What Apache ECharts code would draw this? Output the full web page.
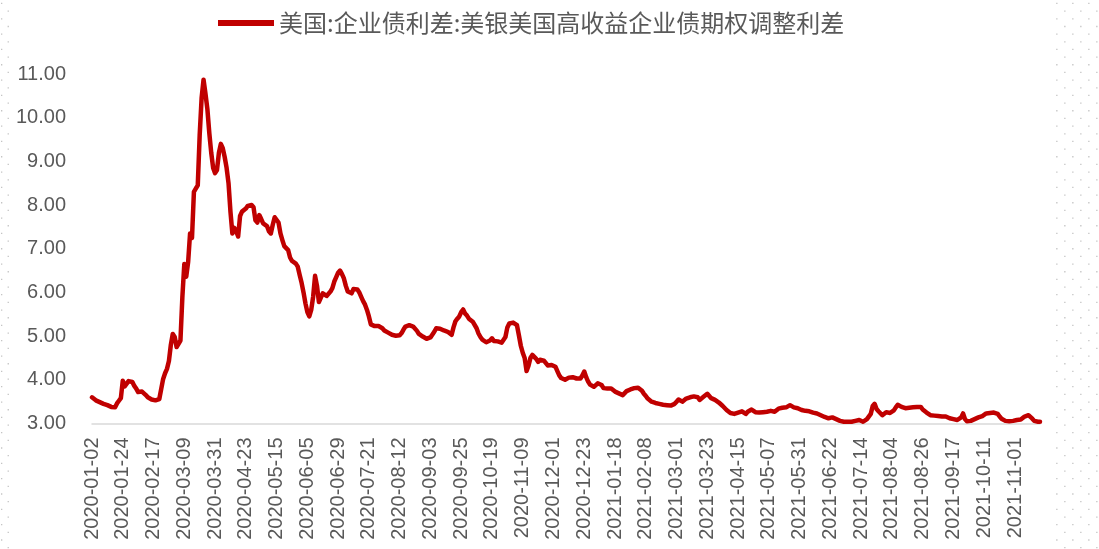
<!DOCTYPE html>
<html>
<head>
<meta charset="utf-8">
<title>美国:企业债利差:美银美国高收益企业债期权调整利差</title>
<script src="https://cdn.jsdelivr.net/npm/echarts@6/dist/echarts.min.js"></script>
<style>
  html, body { margin: 0; padding: 0; background: #ffffff; }
  #chart { width: 1099px; height: 549px; }
</style>
</head>
<body>
<div id="chart"></div>
<script>
// Series name shown in the legend
const seriesName = '美国:企业债利差:美银美国高收益企业债期权调整利差';

// Dates printed under the category axis (every 16th trading day)
const tickLabels = [
  '2020-01-02', '2020-01-24', '2020-02-17', '2020-03-09', '2020-03-31', '2020-04-23',
  '2020-05-15', '2020-06-05', '2020-06-29', '2020-07-21', '2020-08-12', '2020-09-03',
  '2020-09-25', '2020-10-19', '2020-11-09', '2020-12-01', '2020-12-23', '2021-01-18',
  '2021-02-08', '2021-03-01', '2021-03-23', '2021-04-15', '2021-05-07', '2021-05-31',
  '2021-06-22', '2021-07-14', '2021-08-04', '2021-08-26', '2021-09-17', '2021-10-11',
  '2021-11-01'
];

// Market holidays with no observation
const holidays = ['2020-04-10', '2020-12-25', '2021-01-01', '2021-04-02'];

// Observations after the last printed date
const tailCount = 13;

// Option-adjusted spread (%), one row per 16 trading days
const spread = [
  3.60,3.57,3.53,3.50,3.49,3.47,3.45,3.44,3.42,3.40,3.38,3.36,3.37,3.46,3.52,3.58,
  3.98,3.85,3.83,3.97,3.98,3.95,3.86,3.80,3.72,3.69,3.73,3.69,3.65,3.60,3.57,3.55,
  3.54,3.53,3.55,3.56,3.60,4.02,4.15,4.25,4.43,4.80,5.05,4.98,4.75,4.78,4.90,5.90,
  6.65,6.36,6.70,7.35,7.25,8.30,8.38,8.45,9.60,10.45,10.87,10.55,10.20,9.65,9.20,8.85,
  8.73,8.80,9.20,9.40,9.30,9.10,8.85,8.50,7.85,7.35,7.48,7.40,7.28,7.75,7.85,7.88,
  7.92,7.98,8.02,8.00,7.95,7.65,7.60,7.77,7.68,7.58,7.55,7.52,7.40,7.35,7.55,7.72,
  7.73,7.60,7.35,7.20,7.06,7.02,6.97,6.80,6.72,6.68,6.66,6.59,6.40,6.22,6.00,5.75,
  5.55,5.45,5.60,5.90,6.38,6.15,5.78,5.80,5.98,5.95,5.92,5.96,6.02,6.10,6.25,6.35,
  6.45,6.50,6.42,6.32,6.15,6.02,6.00,5.98,6.08,6.12,6.07,6.00,5.90,5.80,5.72,5.60,
  5.45,5.27,5.24,5.23,5.22,5.23,5.21,5.18,5.13,5.10,5.08,5.06,5.03,5.03,5.01,5.00,
  5.02,5.07,5.15,5.22,5.25,5.25,5.24,5.22,5.18,5.12,5.05,5.01,4.99,4.96,4.94,4.93,
  4.97,5.00,5.10,5.18,5.22,5.17,5.14,5.13,5.11,5.10,5.06,5.03,5.20,5.34,5.40,5.45,
  5.55,5.61,5.52,5.47,5.40,5.36,5.33,5.29,5.18,5.06,4.98,4.92,4.89,4.86,4.84,4.90,
  4.95,4.89,4.87,4.88,4.87,4.85,4.84,4.98,5.20,5.29,5.31,5.31,5.28,5.25,5.02,4.78,
  4.62,4.50,4.20,4.32,4.50,4.57,4.57,4.48,4.41,4.46,4.49,4.44,4.40,4.33,4.30,4.34,
  4.31,4.30,4.20,4.10,4.04,4.01,4.00,4.02,4.05,4.06,4.06,4.05,4.03,4.03,4.03,4.10,
  4.19,4.06,3.96,3.89,3.86,3.84,3.86,3.92,3.90,3.88,3.81,3.77,3.80,3.84,3.80,3.76,
  3.73,3.71,3.69,3.67,3.65,3.69,3.74,3.76,3.78,3.79,3.81,3.83,3.82,3.81,3.75,3.68,
  3.63,3.57,3.53,3.50,3.48,3.47,3.46,3.45,3.45,3.43,3.42,3.42,3.43,3.41,3.43,3.45,
  3.50,3.55,3.52,3.50,3.53,3.57,3.58,3.60,3.60,3.62,3.65,3.60,3.54,3.58,3.61,3.64,
  3.68,3.63,3.58,3.56,3.54,3.52,3.48,3.44,3.40,3.36,3.31,3.28,3.24,3.22,3.22,3.23,
  3.25,3.28,3.28,3.24,3.22,3.27,3.30,3.32,3.30,3.26,3.25,3.25,3.25,3.26,3.27,3.27,
  3.28,3.29,3.28,3.27,3.29,3.34,3.37,3.36,3.35,3.37,3.40,3.42,3.40,3.37,3.36,3.35,
  3.33,3.31,3.29,3.29,3.29,3.28,3.26,3.25,3.24,3.23,3.22,3.19,3.17,3.15,3.13,3.12,
  3.13,3.14,3.12,3.10,3.08,3.06,3.05,3.04,3.04,3.04,3.04,3.04,3.04,3.06,3.09,3.08,
  3.05,3.04,3.06,3.10,3.14,3.22,3.40,3.45,3.33,3.28,3.24,3.19,3.22,3.26,3.26,3.24,
  3.23,3.30,3.37,3.43,3.43,3.38,3.36,3.35,3.35,3.36,3.37,3.37,3.37,3.38,3.40,3.38,
  3.32,3.29,3.25,3.22,3.19,3.17,3.18,3.19,3.17,3.16,3.16,3.16,3.16,3.14,3.12,3.11,
  3.10,3.09,3.08,3.09,3.14,3.23,3.10,3.05,3.04,3.06,3.08,3.10,3.12,3.14,3.15,3.17,
  3.20,3.23,3.25,3.24,3.22,3.25,3.27,3.22,3.16,3.11,3.08,3.06,3.04,3.05,3.06,3.06,
  3.07,3.08,3.08,3.09,3.13,3.16,3.18,3.19,3.16,3.11,3.06,3.04,3.04,3.04
];

// Axis range of the spread scale
const yMin = 3;
const yMax = 11;
const yStep = 1;

// ---- build the trading-day calendar between the printed dates ----
const DAY = 86400000;
function parseDay(s) { return Date.UTC(+s.slice(0, 4), +s.slice(5, 7) - 1, +s.slice(8, 10)); }
function fmtDay(t) { return new Date(t).toISOString().slice(0, 10); }
function isWeekday(t) { const w = new Date(t).getUTCDay(); return w !== 0 && w !== 6; }

function buildDates() {
  const out = [];
  const step = 16;
  for (let k = 0; k < tickLabels.length; k++) {
    out.push(tickLabels[k]);
    const a = parseDay(tickLabels[k]);
    if (k < tickLabels.length - 1) {
      const b = parseDay(tickLabels[k + 1]);
      const between = [];
      for (let t = a + DAY; t < b; t += DAY) between.push(t);
      let pick = between.filter(t => isWeekday(t) && holidays.indexOf(fmtDay(t)) < 0);
      if (pick.length < step - 1) {
        const extra = between.filter(t => !isWeekday(t));
        pick = pick.concat(extra.slice(0, step - 1 - pick.length)).sort((x, y) => x - y);
      }
      pick.slice(0, step - 1).forEach(t => out.push(fmtDay(t)));
    } else {
      let t = a, n = 0;
      while (n < tailCount) {
        t += DAY;
        if (isWeekday(t) && holidays.indexOf(fmtDay(t)) < 0) { out.push(fmtDay(t)); n++; }
      }
    }
  }
  return out;
}
const dates = buildDates();

// ---- dotted sheet border on both sides ----
function borderDots() {
  const dots = [];
  const dotStyle = { fill: '#c4c4c4' };
  const rowGap = 15.33;
  for (let r = 0; r < 37; r++) {
    const ya = 2.8 + r * rowGap;
    const yb = 10.5 + r * rowGap;
    [1056.2, 1072.2, 1088.2].forEach(x => dots.push({ type: 'rect', shape: { x: x, y: ya, width: 1.3, height: 1.3 }, style: dotStyle, silent: true }));
    [1064.2, 1080.2, 1096.2].forEach(x => dots.push({ type: 'rect', shape: { x: x, y: yb, width: 1.3, height: 1.3 }, style: dotStyle, silent: true }));
    dots.push({ type: 'rect', shape: { x: 1.0, y: ya, width: 1.3, height: 1.3 }, style: dotStyle, silent: true });
    dots.push({ type: 'rect', shape: { x: 7.6, y: yb, width: 1.3, height: 1.3 }, style: dotStyle, silent: true });
  }
  return dots;
}

const chart = echarts.init(document.getElementById('chart'), null, { renderer: 'canvas' });

const labelFont = '"Liberation Sans", Arial, sans-serif';
const textColor = '#595959';

chart.setOption({
  animation: false,
  backgroundColor: '#ffffff',
  graphic: borderDots(),
  legend: {
    data: [seriesName],
    left: 213,
    top: 6,
    icon: 'rect',
    itemWidth: 56,
    itemHeight: 6,
    itemGap: 10,
    textStyle: {
      color: textColor,
      fontSize: 24,
      fontFamily: '"Noto Sans CJK SC", sans-serif'
    }
  },
  grid: {
    left: 92,
    right: 59,
    top: 74,
    bottom: 125.5
  },
  xAxis: {
    type: 'category',
    data: dates,
    boundaryGap: false,
    axisLine: { show: true, lineStyle: { color: '#d9d9d9', width: 1.5 } },
    axisTick: { show: false },
    splitLine: { show: false },
    axisLabel: {
      interval: 15,
      rotate: 90,
      margin: 14,
      color: textColor,
      fontSize: 20,
      fontFamily: labelFont
    }
  },
  yAxis: {
    type: 'value',
    min: yMin,
    max: yMax,
    interval: yStep,
    axisLine: { show: false },
    axisTick: { show: false },
    splitLine: { show: false },
    axisLabel: {
      margin: 26,
      color: textColor,
      fontSize: 20,
      fontFamily: labelFont,
      formatter: v => v.toFixed(2)
    }
  },
  series: [{
    name: seriesName,
    type: 'line',
    data: spread,
    showSymbol: false,
    symbol: 'none',
    clip: false,
    color: '#C00000',
    itemStyle: { color: '#C00000' },
    lineStyle: { color: '#C00000', width: 4.5, join: 'round', cap: 'round' }
  }]
});
</script>
</body>
</html>
